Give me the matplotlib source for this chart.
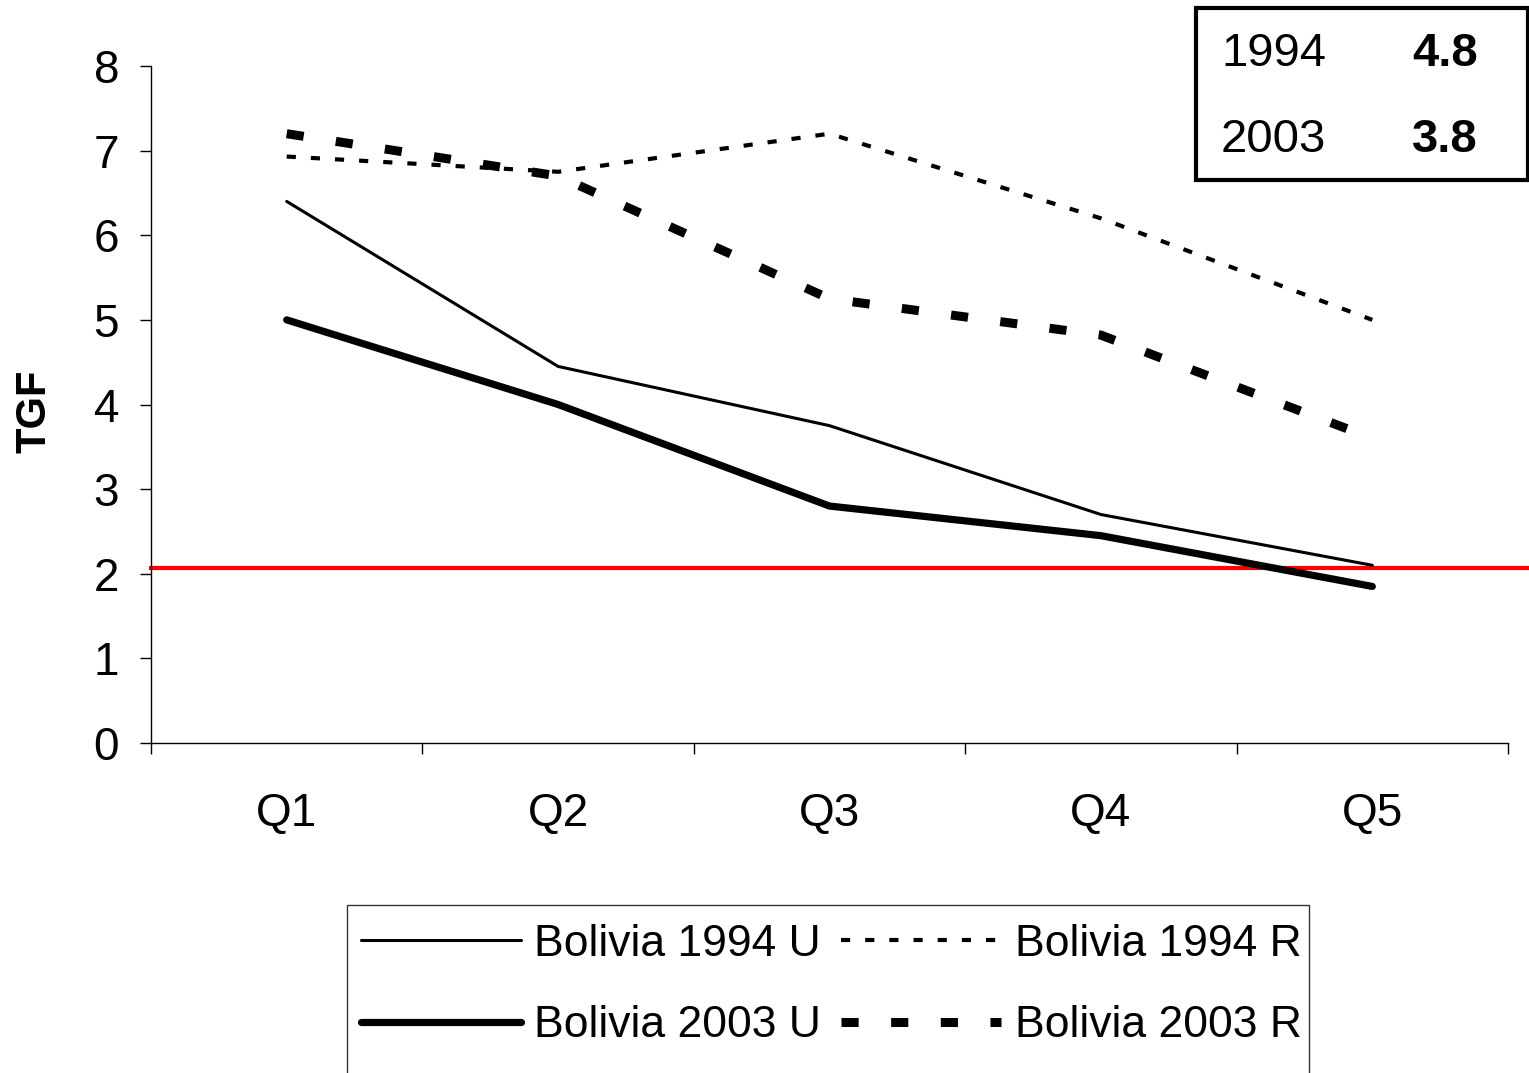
import matplotlib
matplotlib.use("Agg")
import matplotlib.pyplot as plt
from matplotlib.patches import Rectangle

plt.rcParams["font.family"] = ["Liberation Sans", "DejaVu Sans"]

quintiles = ["Q1", "Q2", "Q3", "Q4", "Q5"]
urban_1994 = [6.4, 4.45, 3.75, 2.7, 2.1]
rural_1994 = [6.93, 6.75, 7.2, 6.2, 5.0]
urban_2003 = [5.0, 4.0, 2.8, 2.45, 1.85]
rural_2003 = [7.2, 6.7, 5.25, 4.82, 3.6]
replacement = 2.07
box_years = ["1994", "2003"]
box_values = ["4.8", "3.8"]

W, H = 1529, 1073
fig = plt.figure(figsize=(W / 100, H / 100), dpi=100)
ax = fig.add_axes([151 / W, 1 - 743 / H, (1508 - 151) / W, (743 - 66) / H])

x = list(range(1, len(quintiles) + 1))
l1, = ax.plot(x, urban_1994, color="black", lw=2.2, solid_capstyle="round",
              label="Bolivia 1994 U")
l2, = ax.plot(x, rural_1994, color="black", lw=3.0, linestyle=(0, (2.2, 3.6)),
              label="Bolivia 1994 R")
l3, = ax.plot(x, urban_2003, color="black", lw=5.2, solid_capstyle="round",
              label="Bolivia 2003 U")
l4, = ax.plot(x, rural_2003, color="black", lw=6.5, linestyle=(0, (1.9, 3.6)),
              label="Bolivia 2003 R")
# replacement level line runs past the last tick to the figure edge
ax.axhline(replacement, xmin=0, xmax=(W - 151) / (1508 - 151), color="red",
           lw=3, clip_on=False, zorder=1)

ax.set_xlim(0.5, len(quintiles) + 0.5)
ax.set_ylim(0, 8)
ax.set_yticks(range(0, 9))
ax.set_xticks(x)
ax.set_xticklabels(quintiles)
ax.set_xticks([i + 0.5 for i in range(0, len(quintiles) + 1)], minor=True)
ax.tick_params(axis="x", which="major", length=0, pad=35, labelsize=33)
ax.tick_params(axis="x", which="minor", length=8, width=1, direction="out")
ax.tick_params(axis="y", length=8, width=1, direction="out", pad=15, labelsize=33)
for s in ["top", "right"]:
    ax.spines[s].set_visible(False)
for s in ["left", "bottom"]:
    ax.spines[s].set_linewidth(1)

ax.set_ylabel("TGF", fontsize=30, fontweight="bold")
ax.yaxis.set_label_coords(-0.071, 0.49)

# legend without frame, plus an open-bottom box
leg = fig.legend(handles=[l1, l3, l2, l4], ncol=2, loc="upper left",
                 bbox_to_anchor=(361 / W, 1 - 924 / H), frameon=False,
                 fontsize=32, handlelength=3.6, handletextpad=0.3,
                 columnspacing=0.45, labelspacing=0.91, borderpad=0,
                 borderaxespad=0)
fig.patches.append(Rectangle((347 / W, 1 - 1090 / H), (1309 - 347) / W,
                             (1090 - 905) / H, transform=fig.transFigure,
                             fill=False, edgecolor="#333333", lw=1))

# summary box, top right
fig.patches.append(Rectangle((1196 / W, 1 - 180 / H), (1528 - 1196) / W,
                             (180 - 8) / H, transform=fig.transFigure,
                             fill=False, edgecolor="black", lw=3))
for yr, val, yc in zip(box_years, box_values, [54, 140]):
    fig.text(1221 / W, 1 - yc / H, yr, fontsize=34, ha="left", va="center")
    fig.text(1478 / W, 1 - yc / H, val, fontsize=34, fontweight="bold",
             ha="right", va="center")

fig.savefig("out.png", dpi=100)
